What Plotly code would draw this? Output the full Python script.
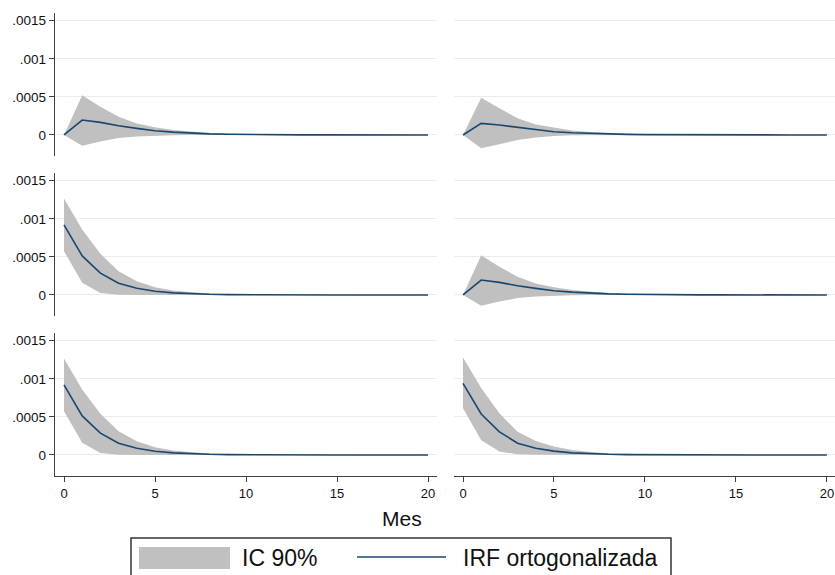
import plotly.graph_objects as go

steps = list(range(21))

# Panel row1 col1 (same shape as row2 col2)
irf_a = [0, .000196, .000165, .00012, .000087, .000056, .000037, .000024, .000015, .00001, .000006,
         .000004, .0000025, .0000016, .000001, .0000006, .0000004, .0000003, .0000002, .0000001, .0000001]
up_a = [0, .00052, .00037, .00024, .00015, .0001, .000065, .000042, .000027, .000017, .000011,
        .000007, .0000045, .000003, .000002, .0000013, .0000008, .0000005, .0000003, .0000002, .0000001]
lo_a = [0, -.00014, -.000087, -.00004, -.00002, -.00001, -.000004, -.000002, -.0000008, -.0000003, -.0000001,
        0, 0, 0, 0, 0, 0, 0, 0, 0, 0]

# Panel row1 col2
irf_b = [0, .000152, .00013, .0001, .000065, .000043, .00003, .00002, .000012, .000008, .000005,
         .0000032, .000002, .0000013, .0000008, .0000005, .0000003, .0000002, .0000001, .0000001, 0]
up_b = [0, .00049, .00035, .00022, .000139, .000096, .00006, .00004, .000025, .000016, .00001,
        .0000065, .000004, .0000026, .0000016, .000001, .0000006, .0000004, .0000002, .0000001, .0000001]
lo_b = [0, -.000174, -.000122, -.000065, -.000033, -.000013, -.000005, -.000002, -.0000008, -.0000003, -.0000001,
        0, 0, 0, 0, 0, 0, 0, 0, 0, 0]

# Panel row2 col1 and row3 col1
irf_c = [.00092, .000513, .000287, .000154, .000088, .000048, .000027, .000015, .0000085, .0000048, .0000027,
         .0000015, .0000009, .0000005, .0000003, .0000002, .0000001, .0000001, 0, 0, 0]
up_c = [.001265, .00086, .00054, .00031, .00018, .0001, .00006, .000035, .00002, .000012, .000007,
        .000004, .0000024, .0000014, .0000008, .0000005, .0000003, .0000002, .0000001, .0000001, 0]
lo_c = [.000575, .00016, .000027, .000004, .000001, 0, 0, 0, 0, 0, 0,
        0, 0, 0, 0, 0, 0, 0, 0, 0, 0]

# Panel row3 col2
irf_d = [.00094, .000538, .000304, .000155, .000089, .00005, .000028, .000016, .000009, .000005, .000003,
         .0000017, .000001, .0000006, .0000003, .0000002, .0000001, .0000001, 0, 0, 0]
up_d = [.00128, .00088, .000546, .000304, .000185, .00011, .000065, .000038, .000022, .000013, .0000075,
        .0000045, .0000026, .0000015, .0000009, .0000005, .0000003, .0000002, .0000001, .0000001, 0]
lo_d = [.000612, .000194, .000044, .00001, .000002, 0, 0, 0, 0, 0, 0,
        0, 0, 0, 0, 0, 0, 0, 0, 0, 0]

panels = [  # (row, col, irf, upper, lower)
    (0, 0, irf_a, up_a, lo_a),
    (0, 1, irf_b, up_b, lo_b),
    (1, 0, irf_c, up_c, lo_c),
    (1, 1, irf_a, up_a, lo_a),
    (2, 0, irf_c, up_c, lo_c),
    (2, 1, irf_d, up_d, lo_d),
]

ytickvals = [0, .0005, .001, .0015]
yticktext = ["0", ".0005", ".001", ".0015"]
xtickvals = [0, 5, 10, 15, 20]

W, H = 835, 575
FONT = "Arial, Liberation Sans, sans-serif"
FILL = "#c0c0c0"
LINE = "#1a476f"
AXC = "#404040"
GRID = "#e6eef1"

fig = go.Figure()
layout = {}
for i, (r, c, irf, up, lo) in enumerate(panels):
    n = i + 1
    xa = "x" if n == 1 else f"x{n}"
    ya = "y" if n == 1 else f"y{n}"
    fig.add_trace(go.Scatter(x=steps, y=lo, xaxis=xa, yaxis=ya, mode="lines",
                             line=dict(width=0, color=FILL), showlegend=False, hoverinfo="skip"))
    fig.add_trace(go.Scatter(x=steps, y=up, xaxis=xa, yaxis=ya, mode="lines", fill="tonexty",
                             fillcolor=FILL, line=dict(width=0, color=FILL), showlegend=False,
                             name="IC 90%"))
    fig.add_trace(go.Scatter(x=steps, y=irf, xaxis=xa, yaxis=ya, mode="lines",
                             line=dict(width=1.6, color=LINE), showlegend=False,
                             name="IRF ortogonalizada"))

    if c == 0:
        x0p, x1p, xr = 54.9, 437.1, [-0.5, 20.5]
    else:
        x0p, x1p, xr = 453.9, 835.0, [-0.5, 20.445]
    top = 13.3 + 160 * r
    bot = 156.0 + 160 * r
    xkey = "xaxis" if n == 1 else f"xaxis{n}"
    ykey = "yaxis" if n == 1 else f"yaxis{n}"
    bottom_row = (r == 2)
    layout[xkey] = dict(domain=[x0p / W, x1p / W], range=xr, anchor=ya,
                        showgrid=False, zeroline=False,
                        showline=bottom_row, linecolor=AXC, linewidth=1.3,
                        ticks="outside" if bottom_row else "", ticklen=5, tickcolor=AXC, tickwidth=1.3,
                        tickvals=xtickvals, showticklabels=bottom_row,
                        tickfont=dict(family=FONT, size=13, color="#111"))
    left_col = (c == 0)
    layout[ykey] = dict(domain=[1 - bot / H, 1 - top / H], range=[-0.000276, 0.001597], anchor=xa,
                        showgrid=True, gridcolor=GRID, gridwidth=1, zeroline=False,
                        showline=left_col, linecolor=AXC, linewidth=1.3,
                        ticks="outside" if left_col else "", ticklen=5, tickcolor=AXC, tickwidth=1.3,
                        tickvals=ytickvals, ticktext=yticktext, showticklabels=left_col,
                        tickfont=dict(family=FONT, size=13.5, color="#111"))

shapes = [
    dict(type="rect", xref="paper", yref="paper", x0=131 / W, x1=671 / W, y0=-0.05, y1=1 - 538 / H,
         line=dict(color="#333", width=1.5), fillcolor="white"),
    dict(type="rect", xref="paper", yref="paper", x0=139 / W, x1=230 / W, y0=1 - 569 / H, y1=1 - 547 / H,
         line=dict(width=0), fillcolor=FILL),
    dict(type="line", xref="paper", yref="paper", x0=357 / W, x1=446 / W, y0=1 - 557 / H, y1=1 - 557 / H,
         line=dict(color=LINE, width=1.6)),
]
annotations = [
    dict(text="Mes", xref="paper", yref="paper", x=402 / W, y=1 - 518 / H, xanchor="center", yanchor="middle",
         showarrow=False, font=dict(family=FONT, size=21, color="#111")),
    dict(text="IC 90%", xref="paper", yref="paper", x=240 / W, y=1 - 558 / H, xanchor="left", yanchor="middle",
         showarrow=False, font=dict(family=FONT, size=23, color="#111")),
    dict(text="IRF ortogonalizada", xref="paper", yref="paper", x=461 / W, y=1 - 558 / H, xanchor="left",
         yanchor="middle", showarrow=False, font=dict(family=FONT, size=23, color="#111")),
]

fig.update_layout(width=W, height=H, margin=dict(l=0, r=0, t=0, b=0),
                  paper_bgcolor="white", plot_bgcolor="white", showlegend=False,
                  shapes=shapes, annotations=annotations, **layout)

fig.write_html("out.html")
